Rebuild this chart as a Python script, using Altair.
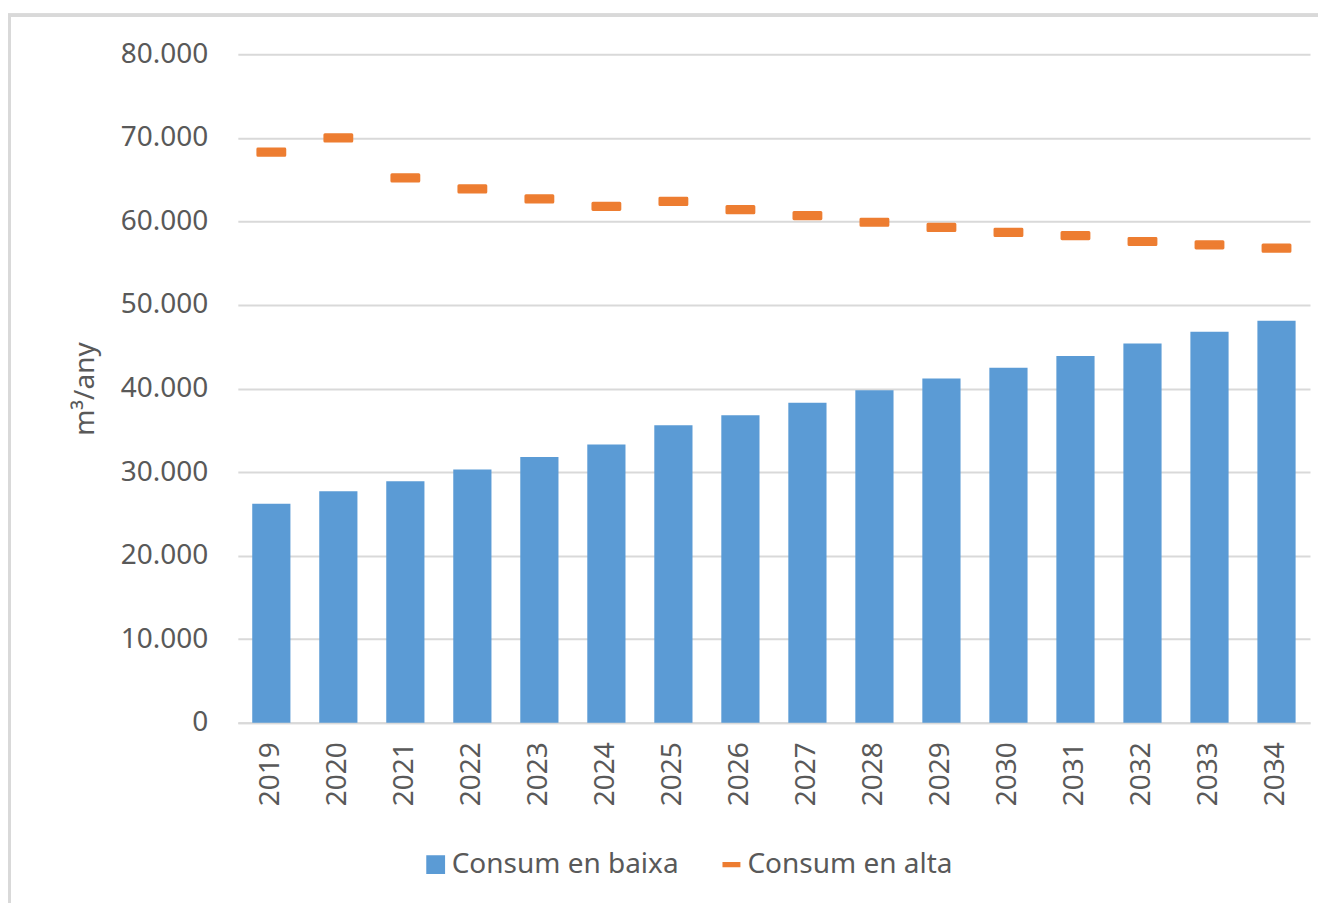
import altair as alt
import pandas as pd

years = ["2019", "2020", "2021", "2022", "2023", "2024", "2025", "2026",
         "2027", "2028", "2029", "2030", "2031", "2032", "2033", "2034"]
baixa = [26200, 27700, 28900, 30300, 31800, 33300, 35600, 36800,
         38300, 39800, 41200, 42500, 43900, 45400, 46800, 48100]
alta = [68300, 70000, 65200, 63900, 62700, 61800, 62400, 61400,
        60700, 59900, 59300, 58700, 58300, 57600, 57200, 56800]
series_names = ["Consum en baixa", "Consum en alta"]
series_colors = ["#5B9BD5", "#ED7D31"]
DASH = "M-0.95,-0.22H0.95V0.22H-0.95Z"
series_shapes = ["square", DASH]

df_b = pd.DataFrame({"any": years, "valor": baixa, "serie": series_names[0]})
df_a = pd.DataFrame({"any": years, "valor": alta, "serie": series_names[1]})

FONT = "Noto Sans"
TXT = "#595959"
GRID = "#D9D9D9"

color_scale = alt.Scale(domain=series_names, range=series_colors)
shape_scale = alt.Scale(domain=series_names, range=series_shapes)
legend = alt.Legend(
    title=None, orient="none", direction="horizontal",
    legendX=184, legendY=797, padding=0,
    labelFont=FONT, labelFontSize=28, labelColor=TXT, labelLimit=500,
    symbolSize=300, labelOffset=2, columnPadding=38,
    symbolOpacity=1,
)

x_enc = alt.X("any:N", sort=years,
              scale=alt.Scale(paddingInner=0.43, paddingOuter=0.215),
              axis=alt.Axis(title=None, labelAngle=-90, labelFont=FONT,
                            labelFontSize=28, labelColor=TXT, ticks=False,
                            tickSize=0, labelPadding=19, domain=True,
                            domainColor=GRID, domainWidth=2, grid=False))
y_enc = alt.Y("valor:Q", scale=alt.Scale(domain=[0, 80000], nice=False),
              axis=alt.Axis(title="m³/any", values=list(range(0, 80001, 10000)),
                            labelExpr="replace(format(datum.value, ','), ',', '.')",
                            labelFont=FONT, labelFontSize=28, labelColor=TXT,
                            titleFont=FONT, titleFontSize=28, titleColor=TXT,
                            titleFontWeight="normal", titlePadding=21,
                            ticks=False, tickSize=0, labelPadding=30,
                            domain=False, grid=True, gridColor=GRID,
                            gridWidth=2))

bars = alt.Chart(df_b).mark_bar(opacity=1).encode(
    x=x_enc, y=y_enc,
    color=alt.Color("serie:N", scale=color_scale, legend=legend),
)
dashes = alt.Chart(df_a).mark_point(opacity=1, filled=True, size=800,
                                    strokeWidth=3, strokeJoin="round").encode(
    x=alt.X("any:N", sort=years),
    y=alt.Y("valor:Q"),
    color=alt.Color("serie:N", scale=color_scale, legend=legend),
    stroke=alt.Stroke("serie:N", scale=color_scale, legend=None),
    shape=alt.Shape("serie:N", scale=shape_scale, legend=legend),
)

frame_top = alt.Chart(df_b).mark_rule(color=GRID, strokeWidth=3).encode(
    x=alt.value(-232), x2=alt.value(1200), y=alt.value(-39))
frame_left = alt.Chart(df_b).mark_rule(color=GRID, strokeWidth=3).encode(
    x=alt.value(-229), y=alt.value(-40), y2=alt.value(900))

chart = alt.layer(frame_top, frame_left, bars, dashes).properties(
    width=1073, height=669,
    autosize=alt.AutoSizeParams(type="none"),
    padding={"left": 230, "top": 46, "right": 8, "bottom": 180},
).configure(background="white", view=alt.ViewConfig(stroke=None))

chart.save("out.html", embed_options={"renderer": "svg", "actions": False})
